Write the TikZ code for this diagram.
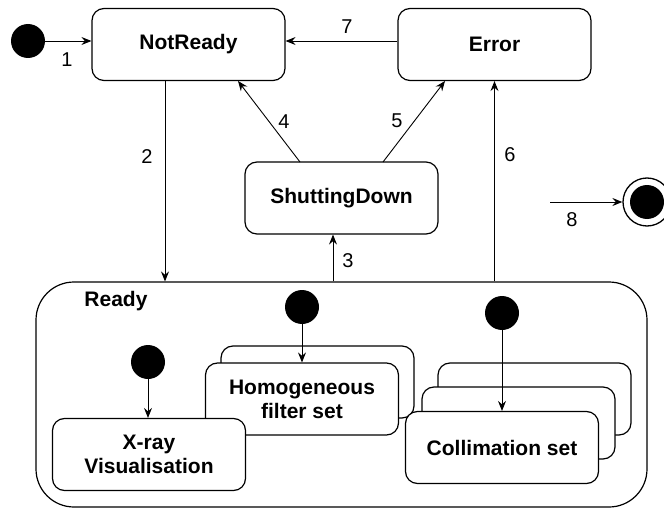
\documentclass[tikz,border=0pt]{standalone}
\usepackage{fontspec}
\setmainfont{Liberation Sans}
\usetikzlibrary{arrows.meta}
\begin{document}
\begin{tikzpicture}[x=1pt,y=-1pt,
  state/.style={draw, line width=1.2pt, rounded corners=12pt, fill=white,
    minimum width=193pt, minimum height=72pt, inner sep=0pt, align=center,
    font=\bfseries\fontsize{21}{24}\selectfont},
  initdot/.style={circle, fill=black, minimum size=34pt, inner sep=0pt},
  lbl/.style={font=\fontsize{20}{24}\selectfont, inner sep=0pt},
  arr/.style={line width=0.9pt, -{Stealth[length=10pt,width=8pt,inset=3.5pt]}}]
\useasboundingbox (0,0) rectangle (664,508);
\fill[white] (0,0) rectangle (664,508);

% composite Ready
\node[draw, line width=1.2pt, rounded corners=38pt, minimum width=611pt, minimum height=225pt, inner sep=0pt] (Ready) at (341.5,394.5) {};
\node[font=\bfseries\fontsize{21}{24}\selectfont, inner sep=0pt] (ReadyLbl) at (116,301) {Ready};

% top states
\node[state] (NotReady) at (188.5,44.5) {NotReady};
\node[state] (Error) at (494.5,44.5) {Error};
\node[state] (Shut) at (341.5,198) {ShuttingDown};

% initial / final
\node[initdot] (i0) at (28,41) {};
\node[draw, circle, line width=1.3pt, minimum size=48pt, inner sep=0pt, fill=white] (fin) at (647,202) {};
\node[circle, fill=black, minimum size=34pt, inner sep=0pt] (finin) at (fin) {};
\coordinate (s8) at (550,202);

% helper coordinates
\coordinate (x1) at (0,41);
\coordinate (x2) at (165,0);
\coordinate (x3) at (333,0);
\coordinate (a4) at (300,162);
\coordinate (b4) at (238,81);
\coordinate (a5) at (383,162);
\coordinate (b5) at (445,81);

% transitions
\draw[arr] (i0) -- (NotReady.west |- x1);
\draw[arr] (Error.west |- x1) -- (NotReady.east |- x1);
\draw[arr] (NotReady.south -| x2) -- (Ready.north -| x2);
\draw[arr] (Ready.north -| x3) -- (Shut.south -| x3);
\draw[arr] (a4) -- (b4);
\draw[arr] (a5) -- (b5);
\draw[arr] (Ready.north -| Error.south) -- (Error.south);
\draw[arr] (s8) -- (fin.west);

% labels
\node[lbl] (l1) at (67,60) {1};
\node[lbl] (l2) at (147,157) {2};
\node[lbl] (l3) at (348,261) {3};
\node[lbl] (l4) at (284,122) {4};
\node[lbl] (l5) at (397,121) {5};
\node[lbl] (l6) at (510,155) {6};
\node[lbl] (l7) at (347,27) {7};
\node[lbl] (l8) at (572,220) {8};

% inner regions
\node[state] (HomB) at (317.5,382) {};
\node[state] (Hom) at (302,399) {Homogeneous\\filter set};
\node[state] (Xray) at (149,454.5) {X-ray\\Visualisation};
\node[state] (ColB) at (534.5,399) {};
\node[state] (ColM) at (518.5,423) {};
\node[state] (Col) at (502,447.5) {Collimation set};

\node[initdot] (iX) at (148,362) {};
\node[initdot] (iH) at (302,307) {};
\node[initdot] (iC) at (502,313) {};
\draw[arr] (iX) -- (Xray.north -| iX);
\draw[arr] (iH) -- (Hom.north);
\draw[arr] (iC) -- (Col.north);
\end{tikzpicture}
\end{document}
